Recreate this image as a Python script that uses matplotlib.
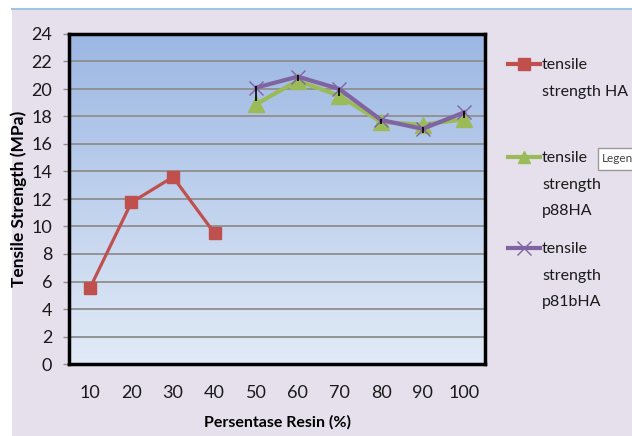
import numpy as np
import matplotlib.pyplot as plt
from matplotlib.lines import Line2D
from matplotlib.patches import Rectangle
from matplotlib.colors import LinearSegmentedColormap

plt.rcParams['font.family'] = ['Lato', 'DejaVu Sans']

# Data
resin = ['10', '20', '30', '40', '50', '60', '70', '80', '90', '100']
ha_x = ['10', '20', '30', '40']
ha = [5.5, 11.75, 13.6, 9.5]
p_x = ['50', '60', '70', '80', '90', '100']
p88ha = [18.9, 20.6, 19.5, 17.6, 17.4, 17.8]
p81bha = [20.1, 20.9, 20.0, 17.75, 17.1, 18.3]
p81bha_err_lo = [1.0, 0.3, 0.5, 0.3, 0.3, 0.4]
p81bha_err_hi = [0.1, 0.1, 0.1, 0.1, 0.1, 0.1]
yticks = list(range(0, 25, 2))

RED = '#C0504D'
GREEN = '#9BBB59'
PURPLE = '#8064A2'
BG = '#E6E0EC'

W, H = 632, 436
fig = plt.figure(figsize=(W / 100, H / 100), dpi=100)
fig.patch.set_facecolor(BG)

# white frame strip at top/left with a thin blue rule
fig.add_artist(Rectangle((0, 1 - 8 / H), 1, 8 / H, transform=fig.transFigure,
                         facecolor='white', edgecolor='none', zorder=0))
fig.add_artist(Rectangle((0, 0), 12 / W, 1, transform=fig.transFigure,
                         facecolor='white', edgecolor='none', zorder=0))
fig.add_artist(Line2D([12 / W, 1], [1 - 9 / H, 1 - 9 / H], transform=fig.transFigure,
                      color='#9DC3E6', lw=1.5, zorder=1))

ax = fig.add_axes([69 / W, 72 / H, 416 / W, 330 / H])
xpos = {c: i for i, c in enumerate(resin)}

# vertical gradient fill of the plot area
cmap = LinearSegmentedColormap.from_list('bgfill', ['#E2EBF7', '#9CB7E3'])
grad = np.linspace(0, 1, 256).reshape(-1, 1)
ax.imshow(grad, cmap=cmap, origin='lower', aspect='auto',
          extent=[0, 1, 0, 1], transform=ax.transAxes, zorder=0)

ax.set_xlim(-0.5, len(resin) - 0.5)
ax.set_ylim(0, 24)
ax.set_yticks(yticks)
ax.set_xticks(range(len(resin)))
ax.set_xticklabels(resin)
ax.yaxis.grid(True, color='#8E8E8E', lw=1.3, zorder=1)
ax.set_axisbelow(True)
ax.tick_params(axis='x', length=0, pad=15, labelsize=13, colors='#1a1a1a')
ax.tick_params(axis='y', length=4, width=1, color='#8E8E8E', pad=8,
               labelsize=13, colors='#1a1a1a')
for s in ax.spines.values():
    s.set_linewidth(2.5)
    s.set_color('black')

hx = [xpos[c] for c in ha_x]
px = [xpos[c] for c in p_x]
ax.plot(hx, ha, color=RED, lw=2.3, marker='s', ms=9, zorder=3)
ax.plot(px, p88ha, color=GREEN, lw=3, marker='^', ms=11, zorder=3)
ax.plot(px, p81bha, color=PURPLE, lw=3, marker='x', ms=10, mew=1, zorder=4)
ax.errorbar(px, p81bha, yerr=[p81bha_err_lo, p81bha_err_hi], fmt='none',
            ecolor='black', elinewidth=1.2, capsize=0, zorder=5)

ax.set_xlabel('Persentase Resin (%)', fontsize=11.5, fontweight='bold', labelpad=10)
ax.set_ylabel('Tensile Strength (MPa)', fontsize=12.5, fontweight='bold', labelpad=0)
ax.yaxis.set_label_coords(-0.1, 0.5)

# legend drawn by hand, handle aligned with first text line
entries = [
    (RED, 's', 9, 'tensile\nstrength HA', 64),
    (GREEN, '^', 9, 'tensile\nstrength\np88HA', 157),
    (PURPLE, 'x', 10, 'tensile\nstrength\np81bHA', 248),
]
for color, mk, ms, label, ypx in entries:
    yf = 1 - ypx / H
    fig.add_artist(Line2D([508 / W, 540 / W], [yf, yf], transform=fig.transFigure,
                          color=color, lw=3))
    fig.add_artist(Line2D([524 / W], [yf], transform=fig.transFigure,
                          color=color, lw=0, marker=mk, ms=ms, mew=1))
    fig.text(542 / W, yf + 6 / H, label, fontsize=11.5, va='top', ha='left',
             linespacing=2.15, color='#1a1a1a')

# tooltip box at right edge
fig.add_artist(Rectangle((598 / W, 1 - 170 / H), 40 / W, 22 / H,
                         transform=fig.transFigure, facecolor='white',
                         edgecolor='#9A9A9A', lw=1, zorder=5))
fig.text(602 / W, 1 - 159 / H, 'Legen', fontsize=8.5, va='center', ha='left',
         color='#444444', zorder=6)

fig.savefig('out.png', dpi=100, facecolor=fig.get_facecolor())
